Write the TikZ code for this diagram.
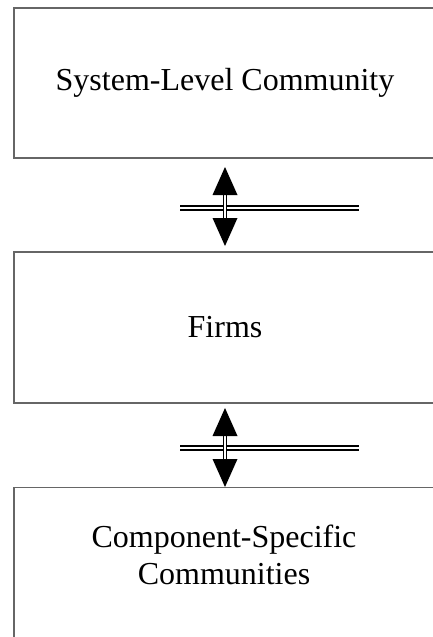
\documentclass[tikz,border=0pt]{standalone}
\usepackage{fontspec}
\setmainfont{Liberation Serif}
\usetikzlibrary{calc}
\begin{document}
\begin{tikzpicture}[x=1pt,y=-1pt,
  box/.style={draw=black!60,line width=1.3pt,minimum width=422pt,minimum height=150pt,inner sep=0pt,align=center,font=\fontsize{32}{37}\selectfont},
  dline/.style={draw=black,line width=2pt,double=white,double distance=1.4pt},
  vline/.style={draw=black,line width=1.7pt,double=white,double distance=1.3pt},
  head/.style={fill=black}]
\useasboundingbox (0,0) rectangle (432,637);
\node[box] (s) at (225,83) {System-Level Community};
\node[box,minimum height=151pt] (f) at (225,327.5) {Firms};
\node[box] (c) at (225,562.5) {};
\node (ct) at (224,555) [align=center,font=\fontsize{32}{37}\selectfont,inner sep=0pt] {Component-Specific\\Communities};
% connector 1
\coordinate (h1a) at (180,208);
\coordinate (h1b) at (359,208);
\draw[dline] (h1a) -- (h1b);
\coordinate (u1) at (225,167);
\coordinate (d1) at (225,246);
\draw[vline] ($(u1)+(0,27)$) -- ($(d1)+(0,-27)$);
\fill[head] (u1) -- ++(-12.5,28) -- ++(25,0) -- cycle;
\fill[head] (d1) -- ++(-12.5,-28) -- ++(25,0) -- cycle;
% connector 2
\coordinate (h2a) at (180,448);
\coordinate (h2b) at (359,448);
\draw[dline] (h2a) -- (h2b);
\coordinate (u2) at (225,408);
\coordinate (d2) at (225,487);
\draw[vline] ($(u2)+(0,27)$) -- ($(d2)+(0,-27)$);
\fill[head] (u2) -- ++(-12.5,28) -- ++(25,0) -- cycle;
\fill[head] (d2) -- ++(-12.5,-28) -- ++(25,0) -- cycle;
\end{tikzpicture}
\end{document}
